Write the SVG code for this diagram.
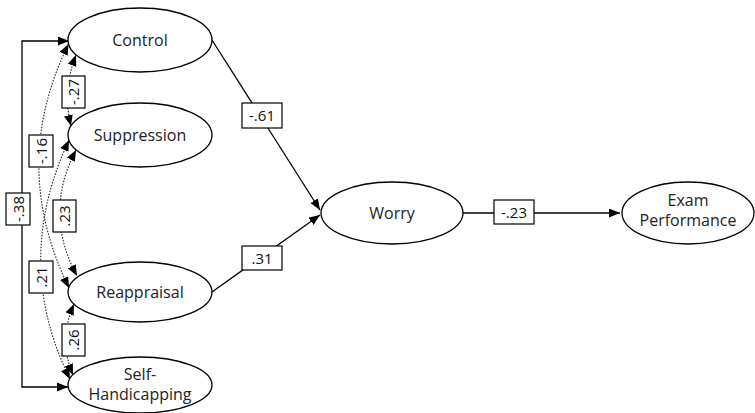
<svg xmlns="http://www.w3.org/2000/svg" width="755" height="413" viewBox="0 0 755 413">
<style>
.node ellipse{fill:#fff;stroke:#000;stroke-width:1.3}
.lbl{font-family:"Open Sans","Liberation Sans",sans-serif;font-size:16px;fill:#222;text-anchor:middle}
.coef rect{fill:#fff;stroke:#000;stroke-width:1.2}
.coef text{font-family:"Open Sans","Liberation Sans",sans-serif;font-size:15px;fill:#111;text-anchor:middle}
.solid{fill:none;stroke:#000;stroke-width:1.3}
.dot{fill:none;stroke:#222;stroke-width:1.1;stroke-dasharray:1.5 1.5}
</style>
<defs>
<marker id="ah" viewBox="0 0 11 9" refX="11" refY="4.5" markerWidth="11" markerHeight="9" markerUnits="userSpaceOnUse" orient="auto-start-reverse">
<path d="M0,0 L11,4.5 L0,9 z" fill="#000"/>
</marker>
</defs>
<rect width="755" height="413" fill="#fff"/>
<g id="connectors">
<path class="solid" d="M212,40 L320,210" marker-end="url(#ah)"/>
<path class="solid" d="M212,292 L320,215" marker-end="url(#ah)"/>
<path class="solid" d="M463,213 L620,213" marker-end="url(#ah)"/>
<path class="solid" d="M69,41 L22,41 L22,387 L68,387" marker-start="url(#ah)" marker-end="url(#ah)"/>
<path class="dot" d="M76,55 Q62,91 71,126" marker-start="url(#ah)" marker-end="url(#ah)"/>
<path class="dot" d="M68.5,44 Q9,165 69,288" marker-start="url(#ah)" marker-end="url(#ah)"/>
<path class="dot" d="M76,150 Q43,213 77,276" marker-start="url(#ah)" marker-end="url(#ah)"/>
<path class="dot" d="M69,140 Q12,262 70,379" marker-start="url(#ah)" marker-end="url(#ah)"/>
<path class="dot" d="M74,304 Q58,340 73,375" marker-start="url(#ah)" marker-end="url(#ah)"/>
<g class="coef">
<rect x="242" y="103" width="40" height="25"/><text x="262" y="121">-.61</text>
<rect x="242" y="246" width="40" height="24"/><text x="262" y="263.5">.31</text>
<rect x="494" y="200" width="40" height="24"/><text x="514" y="217.5">-.23</text>
<rect x="62" y="76" width="23" height="32"/><text transform="translate(73.5,92) rotate(-90)" x="0" y="5.5">-.27</text>
<rect x="29" y="135" width="24" height="32"/><text transform="translate(41,151) rotate(-90)" x="0" y="5.5">-.16</text>
<rect x="6" y="193" width="24" height="32"/><text transform="translate(18,209) rotate(-90)" x="0" y="5.5">-.38</text>
<rect x="53" y="200" width="23" height="32"/><text transform="translate(64.5,216) rotate(-90)" x="0" y="5.5">.23</text>
<rect x="29" y="261" width="24" height="32"/><text transform="translate(41,277) rotate(-90)" x="0" y="5.5">.21</text>
<rect x="62" y="324" width="23" height="32"/><text transform="translate(73.5,340) rotate(-90)" x="0" y="5.5">.26</text>
</g>
</g>
<g id="control" class="node"><ellipse cx="140" cy="40" rx="72" ry="32"/><text class="lbl" x="140" y="46">Control</text></g>
<g id="suppression" class="node"><ellipse cx="140" cy="135" rx="72" ry="32"/><text class="lbl" x="140" y="141">Suppression</text></g>
<g id="reappraisal" class="node"><ellipse cx="140" cy="292" rx="72" ry="30"/><text class="lbl" x="140" y="298">Reappraisal</text></g>
<g id="self-handicapping" class="node"><ellipse cx="140" cy="385" rx="72" ry="28"/><text class="lbl" x="140" y="380">Self-</text><text class="lbl" x="140" y="400">Handicapping</text></g>
<g id="worry" class="node"><ellipse cx="392" cy="213" rx="71" ry="31"/><text class="lbl" x="392" y="219">Worry</text></g>
<g id="exam-performance" class="node"><ellipse cx="688" cy="213" rx="66" ry="31"/><text class="lbl" x="688" y="206">Exam</text><text class="lbl" x="688" y="226">Performance</text></g>
</svg>
